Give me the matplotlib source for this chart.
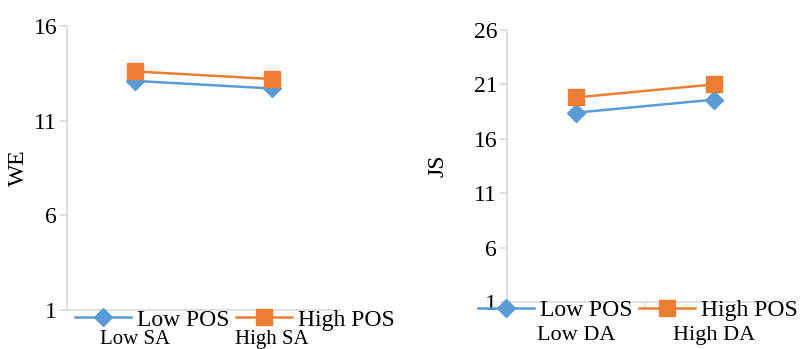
import matplotlib.pyplot as plt

plt.rcParams['font.family'] = ['Liberation Serif', 'DejaVu Serif']

left_cats = ['Low SA', 'High SA']
right_cats = ['Low DA', 'High DA']
series_names = ['Low POS', 'High POS']
we_low_pos = [13.1, 12.7]
we_high_pos = [13.6, 13.2]
js_low_pos = [18.4, 19.6]
js_high_pos = [19.8, 21.0]

blue = '#5b9bd5'
orange = '#ed7d31'
grey = '#d9d9d9'

fig = plt.figure(figsize=(8.02, 3.49), dpi=100)
ax1 = fig.add_axes([0.0835, 0.1117, 0.3405, 0.8138])
ax2 = fig.add_axes([0.632, 0.1347, 0.344, 0.7793])


def style(ax, cats, low, high, yticks, ylabel, leg_anchor, xlab_pad, xlab_size):
    x = range(len(cats))
    ax.plot(x, low, color=blue, lw=1.8, marker='D', ms=9, label=series_names[0])
    ax.plot(x, high, color=orange, lw=1.8, marker='s', ms=11, label=series_names[1])
    ax.set_xlim(-0.5, len(cats) - 0.5)
    ax.set_ylim(yticks[0], yticks[-1])
    ax.set_yticks(yticks)
    ax.set_xticks(list(x))
    ax.set_xticklabels(cats)
    ax.set_xticks([0.5], minor=True)
    for s in ['top', 'right']:
        ax.spines[s].set_visible(False)
    for s in ['left', 'bottom']:
        ax.spines[s].set_color(grey)
        ax.spines[s].set_linewidth(1.2)
    ax.tick_params(axis='y', colors=grey, labelcolor='black', labelsize=17,
                   length=5, width=1.2, pad=2)
    ax.tick_params(axis='x', which='major', length=0, labelsize=xlab_size, pad=xlab_pad)
    ax.tick_params(axis='x', which='minor', colors=grey, length=5, width=1.2)
    ax.set_ylabel(ylabel, fontsize=17)
    ax.legend(loc='center', bbox_to_anchor=leg_anchor, ncol=2, frameon=False,
              fontsize=17, handlelength=2.4, columnspacing=0.25, handletextpad=0.25,
              borderpad=0, borderaxespad=0)


style(ax1, left_cats, we_low_pos, we_high_pos, [1, 6, 11, 16], 'WE', (0.615, -0.035), 14.5, 15)
style(ax2, right_cats, js_low_pos, js_high_pos, [1, 6, 11, 16, 21, 26], 'JS', (0.475, -0.03), 17, 16)
ax1.yaxis.labelpad = 3
ax2.yaxis.labelpad = 18

fig.savefig('out.png', dpi=100)
